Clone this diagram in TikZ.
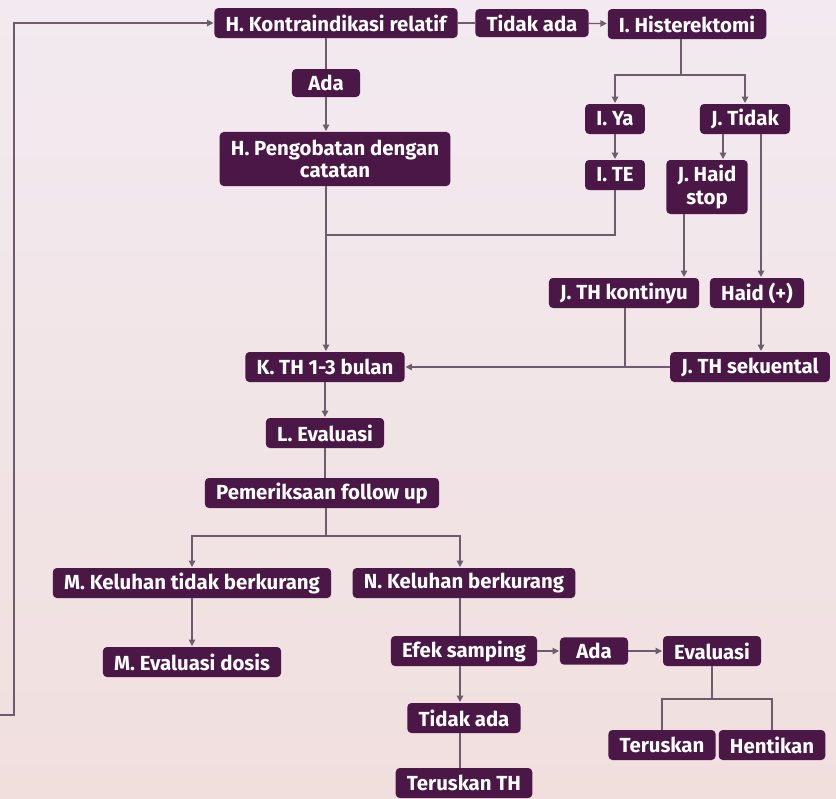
\documentclass[tikz,border=0pt]{standalone}
\usepackage{fontspec}
\setmainfont{Fira Sans}
\usetikzlibrary{arrows.meta}
\definecolor{ungu}{HTML}{4A1746}
\definecolor{garis}{HTML}{6E5C6C}
\definecolor{latatas}{HTML}{F2EAF0}
\definecolor{latbawah}{HTML}{F1DFDE}
\tikzset{
  kotak/.style={fill=ungu, text=white, rounded corners=0.1cm, align=center,
    font=\bfseries\fontsize{14.5}{16}\selectfont, minimum height=0.75cm,
    inner xsep=0.28cm, inner ysep=0.04cm},
  duabaris/.style={kotak, minimum height=1.35cm},
  panah/.style={garisan, -{Triangle[length=4.5pt,width=4.5pt]}, shorten >=0.5pt},
  garisan/.style={draw=garis, line width=0.9pt},
}
\begin{document}
\begin{tikzpicture}[x=0.025cm,y=-0.025cm]
    % ------ latar ---------------
    \shade[top color=latatas,bottom color=latbawah] (0,0) rectangle (836,798);
    \useasboundingbox (0,0) rectangle (836,798);

    % ------ kotak-kotak ---------------
    \node[kotak] (kontra) at (336,23) {H. Kontraindikasi relatif};
    \node[kotak,minimum height=0.7cm] (tidakA) at (532,23) {Tidak ada};
    \node[kotak] (hister) at (687,24) {I. Histerektomi};
    \node[kotak,minimum height=0.7cm,minimum width=1.7cm] (adaA) at (326,83) {Ada};
    \node[duabaris] (obat) at (335,159) {H. Pengobatan dengan\\catatan};
    \node[kotak] (ya) at (615,119) {I. Ya};
    \node[kotak] (tidakB) at (745,119) {J. Tidak};
    \node[kotak] (te) at (615,175) {I. TE};
    \node[duabaris] (haidstop) at (707,187) {J. Haid\\stop};
    \node[kotak] (kontinyu) at (624,293) {J. TH kontinyu};
    \node[kotak] (haidplus) at (757,293) {Haid (+)};
    \node[kotak] (kth) at (325,367) {K. TH 1-3 bulan};
    \node[kotak] (sekuen) at (750,367) {J. TH sekuental};
    \node[kotak] (evalL) at (325,433) {L. Evaluasi};
    \node[kotak] (periksa) at (322,493) {Pemeriksaan follow up};
    \node[kotak] (keluhM) at (192,583) {M. Keluhan tidak berkurang};
    \node[kotak] (keluhN) at (464,583) {N. Keluhan berkurang};
    \node[kotak] (dosis) at (192,662) {M. Evaluasi dosis};
    \node[kotak] (efek) at (464,651) {Efek samping};
    \node[kotak,minimum height=0.68cm,minimum width=1.7cm] (adaB) at (594,651) {Ada};
    \node[kotak] (evalB) at (712,651) {Evaluasi};
    \node[kotak] (tidakC) at (464,718) {Tidak ada};
    \node[kotak] (terusTH) at (464,783) {Teruskan TH};
    \node[kotak] (terus) at (662,745) {Teruskan};
    \node[kotak] (henti) at (772,745) {Hentikan};

    % ------ titik bantu ---------------
    \coordinate (balikA) at (0,715);
    \coordinate (balikB) at (14,715);
    \coordinate (cabH) at (681,75);
    \coordinate (xhaid) at (723,0);
    \coordinate (xplus) at (761,0);
    \coordinate (xkon) at (684,0);
    \coordinate (xkon2) at (625,0);
    \coordinate (gabung) at (326,235);
    \coordinate (cabP) at (326,536);
    \coordinate (xN) at (460,0);
    \coordinate (cabE) at (712,699);

    % ------ garis atas ---------------
    \draw[panah] (balikA) -- (balikB) -- (balikB |- kontra.west) -- (kontra.west);
    \draw[garisan] (kontra) -- (tidakA);
    \draw[panah] (tidakA) -- (hister);
    \draw[garisan] (kontra.south -| adaA) -- (adaA);
    \draw[panah] (adaA) -- (obat.north -| adaA);
    \draw[garisan] (hister.south -| cabH) -- (cabH);
    \draw[panah] (cabH) -| (ya.north);
    \draw[panah] (cabH) -| (tidakB.north);
    \draw[panah] (ya) -- (te);
    \draw[panah] (tidakB.south -| xhaid) -- (haidstop.north -| xhaid);
    \draw[panah] (tidakB.south -| xplus) -- (haidplus.north -| xplus);
    \draw[panah] (haidstop.south -| xkon) -- (kontinyu.north -| xkon);
    \draw[panah] (haidplus.south -| xplus) -- (sekuen.north -| xplus);

    % ------ ke K. TH ---------------
    \draw[garisan] (te.south) |- (gabung);
    \draw[panah] (obat.south -| gabung) -- (kth.north -| gabung);
    \draw[panah] (sekuen.west) -- (kth.east);
    \draw[garisan] (kontinyu.south -| xkon2) -- (xkon2 |- kth.east);

    % ------ evaluasi ---------------
    \draw[panah] (kth) -- (evalL);
    \draw[garisan] (evalL.south) -- (periksa.north -| evalL);
    \draw[garisan] (periksa.south -| cabP) -- (cabP);
    \draw[panah] (cabP) -| (keluhM.north);
    \draw[panah] (cabP) -| (keluhN.north -| xN);
    \draw[panah] (keluhM) -- (dosis);
    \draw[garisan] (keluhN.south -| xN) -- (efek.north -| xN);
    \draw[panah] (efek.south -| xN) -- (tidakC.north -| xN);
    \draw[garisan] (tidakC.south -| xN) -- (terusTH.north -| xN);
    \draw[panah] (efek) -- (adaB);
    \draw[panah] (adaB) -- (evalB);
    \draw[garisan] (evalB.south) -- (cabE);
    \draw[garisan] (cabE) -| (terus.north);
    \draw[garisan] (cabE) -| (henti.north);
\end{tikzpicture}
\end{document}
